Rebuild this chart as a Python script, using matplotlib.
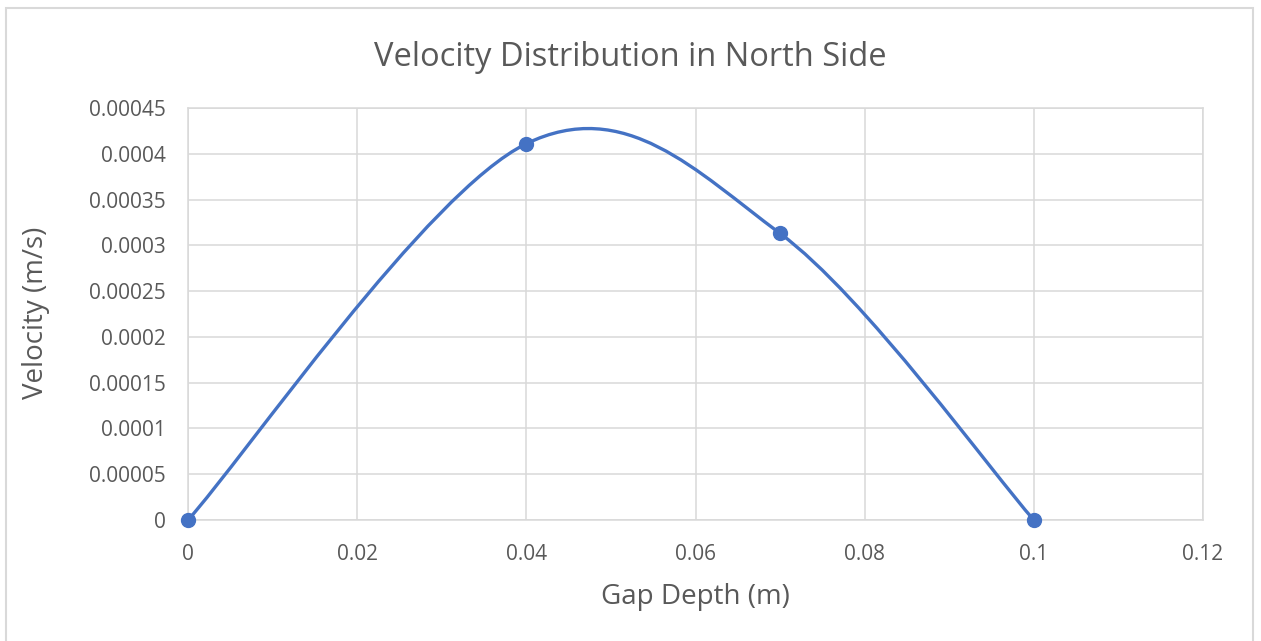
import numpy as np
import matplotlib
matplotlib.use("Agg")
import matplotlib.pyplot as plt
from matplotlib.patches import Rectangle, PathPatch
from matplotlib.path import Path

# measured velocity profile across the gap, north side
gap_depth = [0.0, 0.04, 0.07, 0.1]
velocity = [0.0, 0.000411, 0.000313, 0.0]

x_ticks = [0, 0.02, 0.04, 0.06, 0.08, 0.1, 0.12]
x_tick_labels = ["0", "0.02", "0.04", "0.06", "0.08", "0.1", "0.12"]
y_ticks = [0, 0.00005, 0.0001, 0.00015, 0.0002, 0.00025, 0.0003, 0.00035, 0.0004, 0.00045]
y_tick_labels = ["0", "0.00005", "0.0001", "0.00015", "0.0002", "0.00025",
                 "0.0003", "0.00035", "0.0004", "0.00045"]

LINE = "#4472C4"
GRID = "#d9d9d9"
TEXT = "#595959"
plt.rcParams["font.family"] = ["Open Sans", "DejaVu Sans"]


def smooth_path(xs, ys):
    """Cubic Bezier through the points with Catmull-Rom tangents (spreadsheet-style smoothing)."""
    pts = np.column_stack([xs, ys])
    n = len(pts)
    verts = [pts[0]]
    codes = [Path.MOVETO]
    for i in range(n - 1):
        p0 = pts[max(i - 1, 0)]
        p1 = pts[i]
        p2 = pts[i + 1]
        p3 = pts[min(i + 2, n - 1)]
        c1 = p1 + (p2 - p0) / 6.0
        c2 = p2 - (p3 - p1) / 6.0
        verts += [c1, c2, p2]
        codes += [Path.CURVE4] * 3
    return Path(verts, codes)


fig = plt.figure(figsize=(12.61, 6.41), dpi=100)
ax = fig.add_axes([188 / 1261, 1 - 520 / 641, (1203 - 188) / 1261, (520 - 108) / 641])

ax.add_patch(PathPatch(smooth_path(gap_depth, velocity), facecolor="none",
                       edgecolor=LINE, lw=2.4, capstyle="round", zorder=3))
ax.plot(gap_depth, velocity, "o", color=LINE, ms=10, zorder=4, clip_on=False)

ax.set_xlim(0, 0.12)
ax.set_ylim(0, 0.00045)
ax.set_xticks(x_ticks)
ax.set_xticklabels(x_tick_labels)
ax.set_yticks(y_ticks)
ax.set_yticklabels(y_tick_labels)
ax.tick_params(length=0, labelsize=15, labelcolor=TEXT)
ax.tick_params(axis="x", pad=17)
ax.tick_params(axis="y", pad=16)
ax.grid(True, color=GRID, lw=1.1)
ax.set_axisbelow(True)
for s in ax.spines.values():
    s.set_color(GRID)
    s.set_linewidth(1.1)

fig.text(630 / 1261, 1 - 57 / 641, "Velocity Distribution in North Side",
         ha="center", va="center", fontsize=23.5, color=TEXT)
fig.text(695 / 1261, 1 - 597 / 641, "Gap Depth (m)",
         ha="center", va="center", fontsize=20, color=TEXT)
fig.text(36 / 1261, 1 - 313 / 641, "Velocity (m/s)", rotation=90,
         ha="center", va="center", fontsize=20, color=TEXT)

# chart frame
fig.add_artist(Rectangle((6 / 1261, -0.05), (1253 - 6) / 1261, 1 - 8 / 641 + 0.05,
                         transform=fig.transFigure, fill=False,
                         edgecolor=GRID, lw=1.5))

fig.savefig("out.png", dpi=100)
